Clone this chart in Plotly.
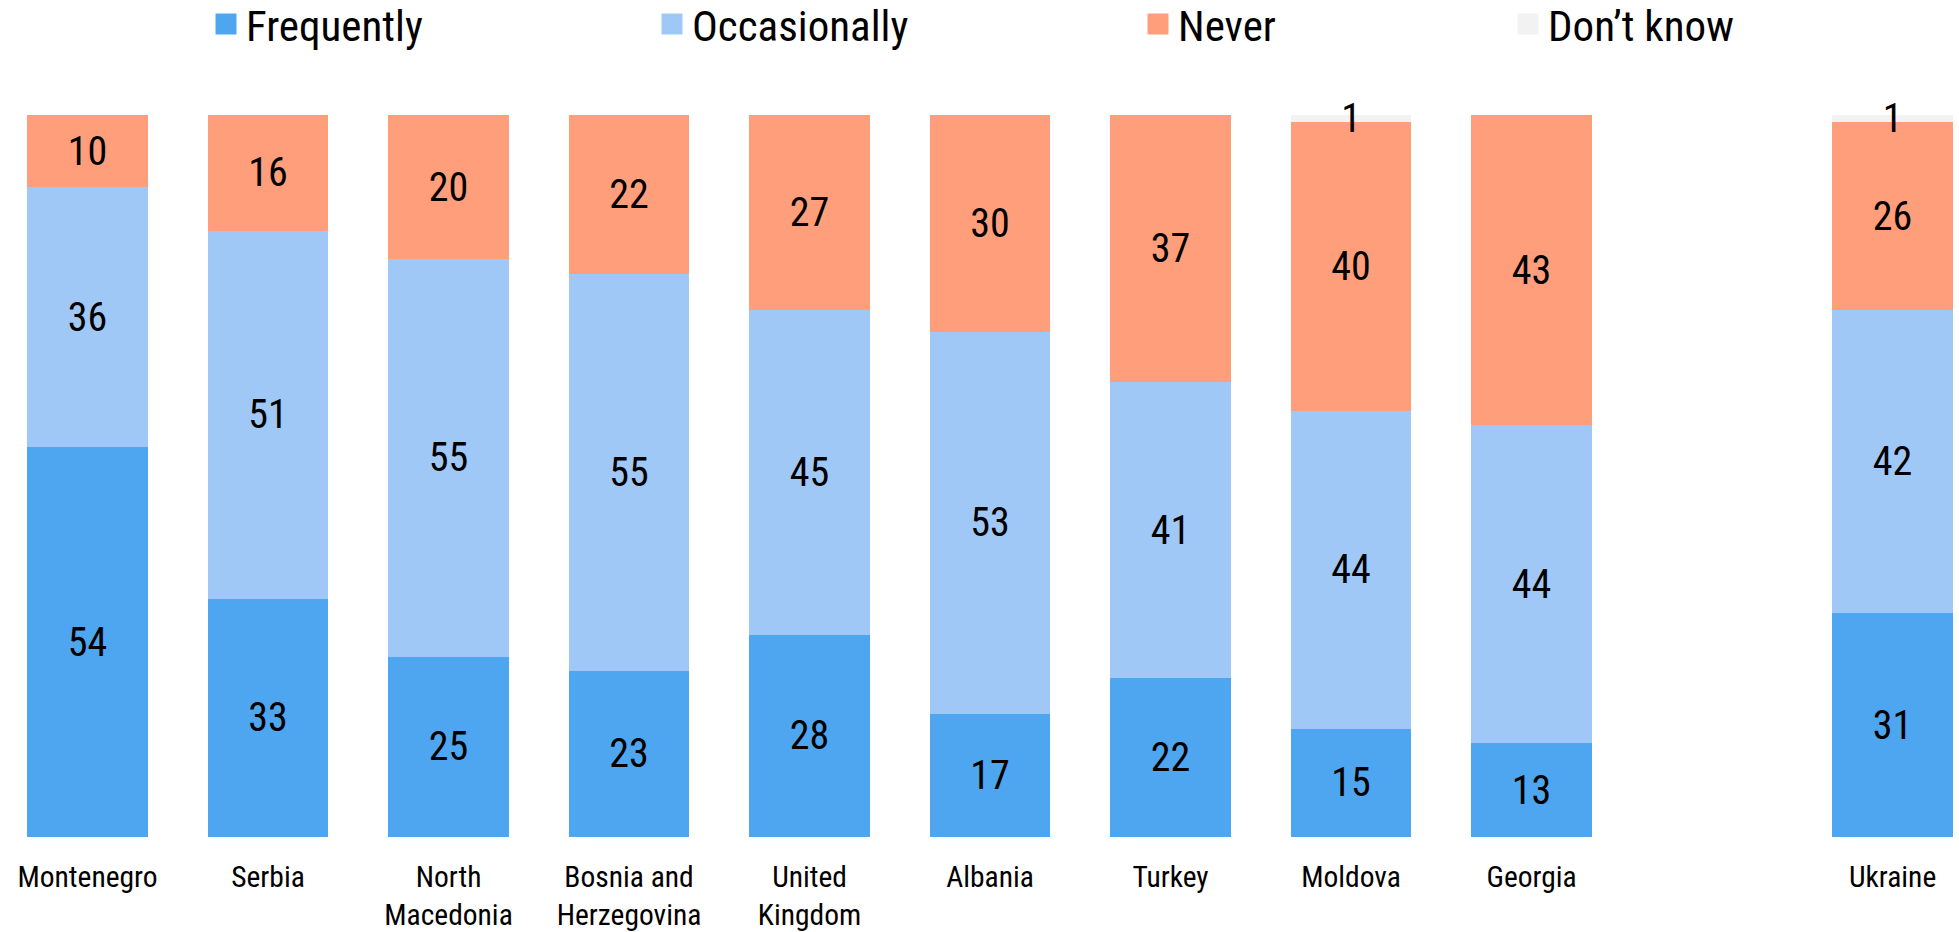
import plotly.graph_objects as go

categories = ["Montenegro", "Serbia", "North<br>Macedonia", "Bosnia and<br>Herzegovina",
              "United<br>Kingdom", "Albania", "Turkey", "Moldova", "Georgia", " ", "Ukraine"]
frequently = [54, 33, 25, 23, 28, 17, 22, 15, 13, None, 31]
occasionally = [36, 51, 55, 55, 45, 53, 41, 44, 44, None, 42]
never = [10, 16, 20, 22, 27, 30, 37, 40, 43, None, 26]
dont_know = [0, 0, 0, 0, 0, 0, 0, 1, 0, None, 1]

series = [
    ("Frequently", frequently, "rgb(77,166,239)"),
    ("Occasionally", occasionally, "rgb(160,200,246)"),
    ("Never", never, "rgb(255,158,122)"),
    ("Don\u2019t know", dont_know, "rgb(242,242,242)"),
]

FONT = "Roboto Condensed, Liberation Sans Narrow, Arial Narrow, Roboto, sans-serif"
W, H = 1959, 932
legend_centers = [228, 674, 1160, 1530]

fig = go.Figure()
legend_ids = ["legend", "legend2", "legend3", "legend4"]
for i, (name, vals, color) in enumerate(series):
    fig.add_trace(go.Bar(
        x=categories, y=vals, name=name, legendgroup=name, showlegend=False,
        marker=dict(color=color, line=dict(width=0)),
        text=[str(v) if v else "" for v in vals],
        textposition="inside", insidetextanchor="middle", constraintext="none",
        textangle=0, cliponaxis=False,
        textfont=dict(family=FONT, size=40, color="black"),
        hoverinfo="x+y+name",
    ))
for i, (name, vals, color) in enumerate(series):
    fig.add_trace(go.Scatter(
        x=[None], y=[None], mode="markers", name=name, legendgroup=name,
        legend=legend_ids[i], showlegend=True,
        marker=dict(symbol="square", size=16, color=color, line=dict(color=color, width=5)),
    ))

layout_legends = {}
for i, lid in enumerate(legend_ids):
    layout_legends[lid] = dict(
        x=(legend_centers[i] - 22) / W, xanchor="left",
        y=1 + (115 - 24) / 722, yanchor="middle",
        orientation="h", bgcolor="rgba(0,0,0,0)", borderwidth=0,
        font=dict(family=FONT, size=43, color="black"),
    )

fig.update_layout(
    width=W, height=H,
    margin=dict(l=0, r=0, t=115, b=95, autoexpand=False),
    barmode="stack", bargap=0.332,
    plot_bgcolor="white", paper_bgcolor="white",
    font=dict(family=FONT, color="black"),
    xaxis=dict(type="category", range=[-0.4848, 10.368], showgrid=False, showline=False,
               automargin=False, ticks="", ticklabelstandoff=19,
               tickfont=dict(family=FONT, size=29.5, color="black"), fixedrange=True),
    yaxis=dict(range=[0, 100], visible=False, showgrid=False, fixedrange=True, automargin=False),
    **layout_legends,
)

fig.write_html(
    "out.html",
    config={"displayModeBar": False},
    post_script="document.body.style.margin='0';document.body.style.overflow='hidden';",
)
